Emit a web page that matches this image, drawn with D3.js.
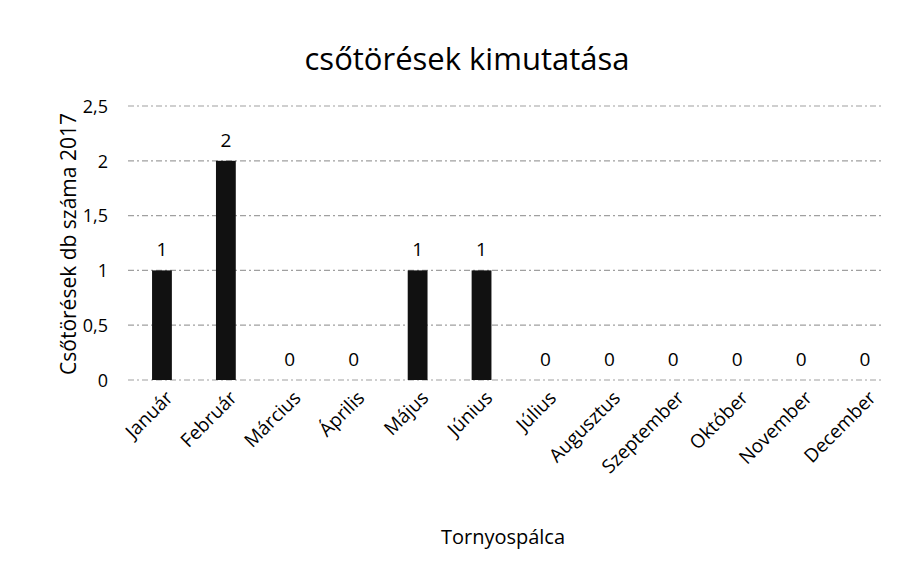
<!DOCTYPE html>
<html><head><meta charset="utf-8">
<script src="https://cdn.jsdelivr.net/npm/d3@7"></script>
<style>body{margin:0;background:#fff}text{font-family:"Open Sans",sans-serif;fill:#000}</style>
</head><body><svg id="c" width="920" height="561"></svg>
<script>
const months = ["Január","Február","Március","Április","Május","Június","Július","Augusztus","Szeptember","Október","November","December"];
const counts = [1,2,0,0,1,1,0,0,0,0,0,0];
const yTicks = [0,0.5,1,1.5,2,2.5];
const yTickLabels = ["0","0,5","1","1,5","2","2,5"];
const title = "csőtörések kimutatása";
const yTitle = "Csőtörések db száma 2017";
const xTitle = "Tornyospálca";

const svg = d3.select("#c");
const x = d3.scaleBand().domain(months).range([130, 897]).paddingInner(0.69).paddingOuter(0.345);
const y = d3.scaleLinear().domain([0, 2.5]).range([380, 106]);

// gridlines
svg.append("g").selectAll("line").data(yTicks).join("line")
  .attr("x1", 128).attr("x2", 882)
  .attr("y1", d => y(d)).attr("y2", d => y(d))
  .attr("stroke", "#a0a0a0").attr("stroke-width", 1.2).attr("stroke-dasharray", "6,3,2,3");

// y axis tick labels
const yAxis = d3.axisLeft(y).tickValues(yTicks).tickFormat((d,i) => yTickLabels[i]).tickSize(0).tickPadding(0);
const ya = svg.append("g").attr("transform", "translate(108,0)").call(yAxis);
ya.select(".domain").remove();
ya.selectAll("text").attr("font-size", 18).attr("font-family", "Open Sans").attr("fill", "#000").attr("dy", "0.35em");

// bars
svg.append("g").selectAll("rect").data(counts).join("rect")
  .attr("x", (d,i) => x(months[i])).attr("width", x.bandwidth())
  .attr("y", d => y(d)).attr("height", d => y(0) - y(d))
  .attr("fill", "#111");

// data labels
svg.append("g").selectAll("text").data(counts).join("text")
  .attr("x", (d,i) => x(months[i]) + x.bandwidth()/2)
  .attr("y", d => y(d) - 14)
  .attr("text-anchor", "middle").attr("font-size", 19)
  .text(d => d);

// x axis labels
const xAxis = d3.axisBottom(x).tickSize(0).tickPadding(0);
const xa = svg.append("g").attr("transform", "translate(0,380)").call(xAxis);
xa.select(".domain").remove();
xa.selectAll("text").attr("font-size", 19).attr("font-family", "Open Sans").attr("fill", "#000")
  .attr("text-anchor", "end").attr("dy", "0").attr("y", 0)
  .attr("transform", "translate(12,19) rotate(-45)");

// titles
svg.append("text").attr("x", 467).attr("y", 70).attr("text-anchor", "middle").attr("font-size", 31).text(title);
svg.append("text").attr("transform", "translate(76,244) rotate(-90)").attr("text-anchor", "middle").attr("font-size", 21).text(yTitle);
svg.append("text").attr("x", 503).attr("y", 544).attr("text-anchor", "middle").attr("font-size", 20).text(xTitle);
</script></body></html>
